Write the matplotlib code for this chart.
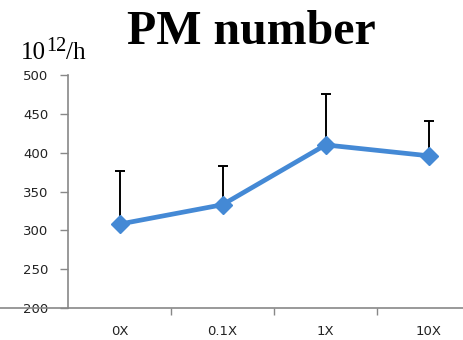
import matplotlib
matplotlib.use("Agg")
import matplotlib.pyplot as plt
from matplotlib.lines import Line2D
import numpy as np

categories = ["0X", "0.1X", "1X", "10X"]
pm_number = [308, 333, 410, 396]
pm_error = [68, 50, 66, 45]
y_ticks = [200, 250, 300, 350, 400, 450, 500]

W, H = 464, 340
fig = plt.figure(figsize=(W / 100, H / 100), dpi=100)
ax = fig.add_axes([0.1466, 0.0941, 0.888, 0.6853])

x = np.arange(len(categories))
ax.errorbar(x, pm_number, yerr=[np.zeros(len(pm_error)), pm_error],
            fmt="none", ecolor="black", elinewidth=1.4, capsize=3.5,
            capthick=1.4, zorder=2)
ax.plot(x, pm_number, color="#4489d5", lw=3.4, marker="D", ms=9,
        mec="#4489d5", mfc="#4489d5", zorder=3, solid_capstyle="round")

ax.set_xlim(-0.5, len(categories) - 0.5)
ax.set_ylim(200, 500)
ax.set_yticks(y_ticks)
ax.set_yticklabels([str(v) for v in y_ticks], fontsize=9.5, family="DejaVu Sans",
                   color="#222222")
ax.set_xticks(x)
ax.set_xticklabels(categories, fontsize=9.5, family="DejaVu Sans", color="#222222")
ax.set_xticks(np.arange(0.5, len(categories) - 0.5, 1.0), minor=True)
ax.tick_params(axis="x", which="major", length=0, pad=12)
ax.tick_params(axis="x", which="minor", length=5, width=1, color="#888888", direction="out")
ax.tick_params(axis="y", length=6, width=1, color="#888888", direction="out", pad=8)

for s in ["top", "right"]:
    ax.spines[s].set_visible(False)
for s in ["left", "bottom"]:
    ax.spines[s].set_color("#888888")
    ax.spines[s].set_linewidth(1.2)

# baseline continues left across the lowest tick label
fig.add_artist(Line2D([0, 0.1466], [0.0941, 0.0941], color="#888888", lw=1.2,
                      transform=fig.transFigure))

fig.text(0.542, 0.872, "PM number", ha="center", va="baseline",
         fontsize=34.5, fontweight="bold", family="Liberation Serif")

# unit label: 10^12/h built from three pieces
serif = "Liberation Serif"
fig.text(21 / W, 1 - 59 / H, "10", ha="left", va="baseline", fontsize=18, family=serif)
fig.text(46 / W, 1 - 51 / H, "12", ha="left", va="baseline", fontsize=14.5, family=serif)
fig.text(66 / W, 1 - 59 / H, "/h", ha="left", va="baseline", fontsize=18, family=serif)

fig.savefig("out.png", dpi=100)
